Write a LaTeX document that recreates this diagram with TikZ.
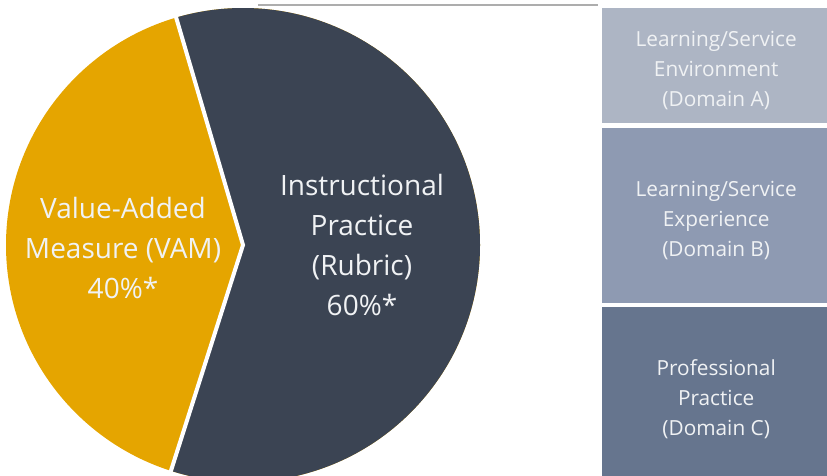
\documentclass[tikz,border=0pt]{standalone}
\usepackage{fontspec}
\setmainfont{Open Sans}
\usetikzlibrary{positioning}
\definecolor{vamgold}{HTML}{E5A500}
\definecolor{rubricslate}{HTML}{3B4453}
\definecolor{domainA}{HTML}{ADB5C4}
\definecolor{domainB}{HTML}{8E9AB2}
\definecolor{domainC}{HTML}{66758E}
\definecolor{paletext}{HTML}{F0F2F4}

\begin{document}
\begin{tikzpicture}[x=1pt, y=-1pt,
      domainbox/.style={anchor=north west, inner sep=0pt, minimum width=228pt},
      domaintext/.style={text=paletext, align=center, yshift=-5pt, font=\fontsize{20.8}{30}\selectfont},
      pielabel/.style={text=paletext, align=center, font=\fontsize{28}{40}\selectfont}
    ]
      \useasboundingbox (0,0) rectangle (827,475);

      % thin leader line behind the pie
      \coordinate (pietop) at (258,5);
      \coordinate (leaderend) at (598,5);
      \draw[line width=2pt, black!32] (pietop) -- (leaderend);

      % pie: gold part, then slate part clipped to the circle
      \fill[vamgold] (243,245) circle (237);
      \begin{scope}
        \clip (243,245) circle (237);
        \fill[rubricslate] (172,0) -- (243,245) -- (170,480) -- (500,480) -- (500,0) -- cycle;
      \end{scope}
      \draw[white, line width=4pt] (171,0) -- (243,245) -- (168,480);

      % pie labels
      \node[pielabel] (vam) at (123,248) {Value-Added\\Measure (VAM)\\40\%*};
      \node[pielabel] (rubric) at (362,245) {Instructional\\Practice\\(Rubric)\\60\%*};

      % domain boxes on the right
      \node[domainbox, fill=domainA, minimum height=115pt,
        label={[domaintext]center:{Learning/Service\\Environment\\(Domain A)}}] (domA) at (602,8) {};
      \node[domainbox, fill=domainB, minimum height=175pt, below=4pt of domA.south west, anchor=north west,
        label={[domaintext]center:{Learning/Service\\Experience\\(Domain B)}}] (domB) {};
      \node[domainbox, fill=domainC, minimum height=175pt, below=4pt of domB.south west, anchor=north west,
        label={[domaintext]center:{Professional\\Practice\\(Domain C)}}] (domC) {};

    \end{tikzpicture}
\end{document}
